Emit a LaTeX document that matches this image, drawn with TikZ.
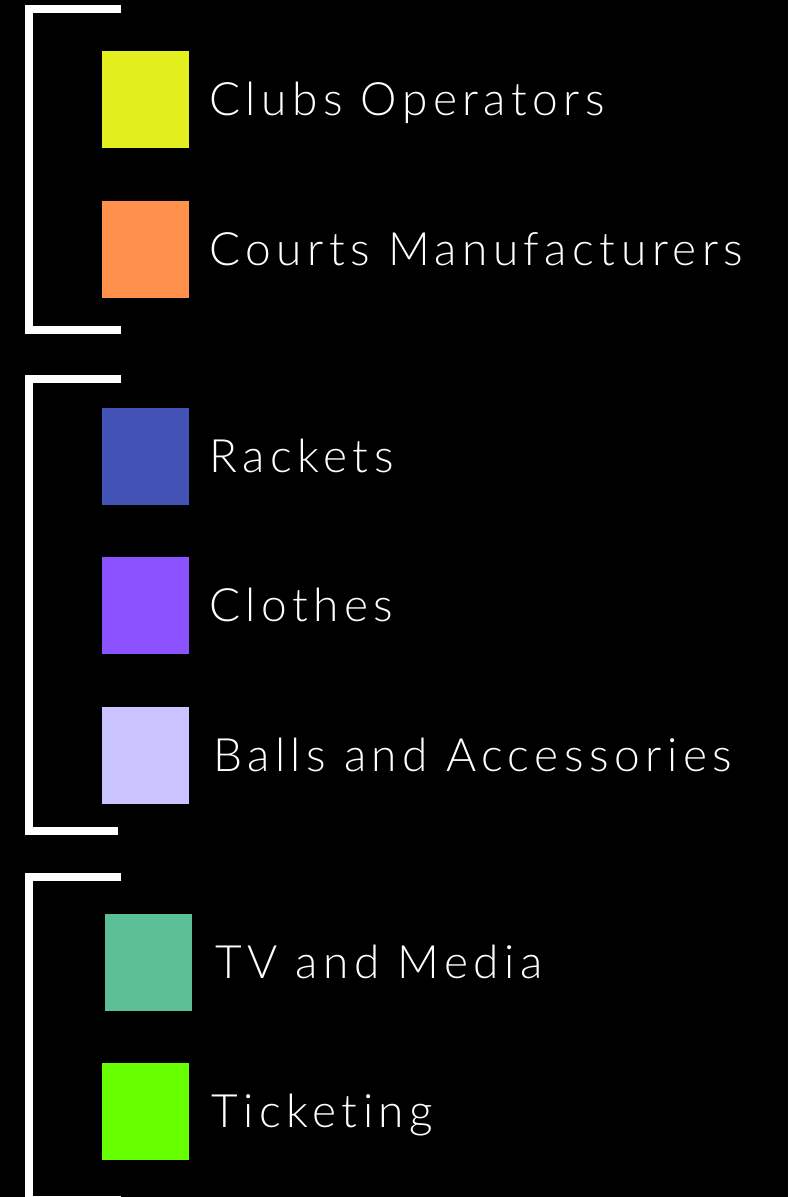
\documentclass[tikz,border=0pt]{standalone}
\usepackage{fontspec}
\setmainfont{Lato Light}[LetterSpace=12,Ligatures=NoCommon]
\begin{document}
\begin{tikzpicture}[x=1pt,y=-1pt,
  sq/.style={minimum width=87pt,minimum height=97pt,inner sep=0pt,outer sep=0pt,anchor=north west},
  lbl/.style={text=white,font=\fontsize{46}{50}\selectfont,inner sep=0pt,anchor=base west},
  brk/.style={draw=white,line width=8pt,line join=miter}]
\useasboundingbox (0,0) rectangle (788,1197);
\clip (0,0) rectangle (788,1197);
\fill[black] (0,0) rectangle (788,1197);
\definecolor{cyel}{HTML}{E3EE1E}
\definecolor{cora}{HTML}{FF914D}
\definecolor{cblu}{HTML}{4353B5}
\definecolor{cpur}{HTML}{8C52FF}
\definecolor{clav}{HTML}{C9C3FF}
\definecolor{cgrn}{HTML}{5CBF95}
\definecolor{clim}{HTML}{66FF00}
% brackets
\draw[brk] (121,9) -- (29,9) -- (29,330) -- (121,330);
\draw[brk] (121,379) -- (29,379) -- (29,831) -- (118,831);
\draw[brk] (121,877) -- (29,877) -- (29,1200) -- (121,1200);
% squares
\node[sq,fill=cyel] (s1) at (102,51) {};
\node[sq,fill=cora] (s2) at (102,201) {};
\node[sq,fill=cblu] (s3) at (102,408) {};
\node[sq,fill=cpur] (s4) at (102,557) {};
\node[sq,fill=clav] (s5) at (102,707) {};
\node[sq,fill=cgrn] (s6) at (105,914) {};
\node[sq,fill=clim] (s7) at (102,1063) {};
% labels
\node[lbl] (t1) at (209,115) {Clubs Operators};
\node[lbl] (t2) at (209,265) {Courts Manufacturers};
\node[lbl] (t3) at (209,472) {Rackets};
\node[lbl] (t4) at (209,621) {Clothes};
\node[lbl] (t5) at (213,771) {Balls and Accessories};
\node[lbl] (t6) at (215,978) {TV and Media};
\node[lbl] (t7) at (211,1127) {Ticketing};
\end{tikzpicture}
\end{document}
